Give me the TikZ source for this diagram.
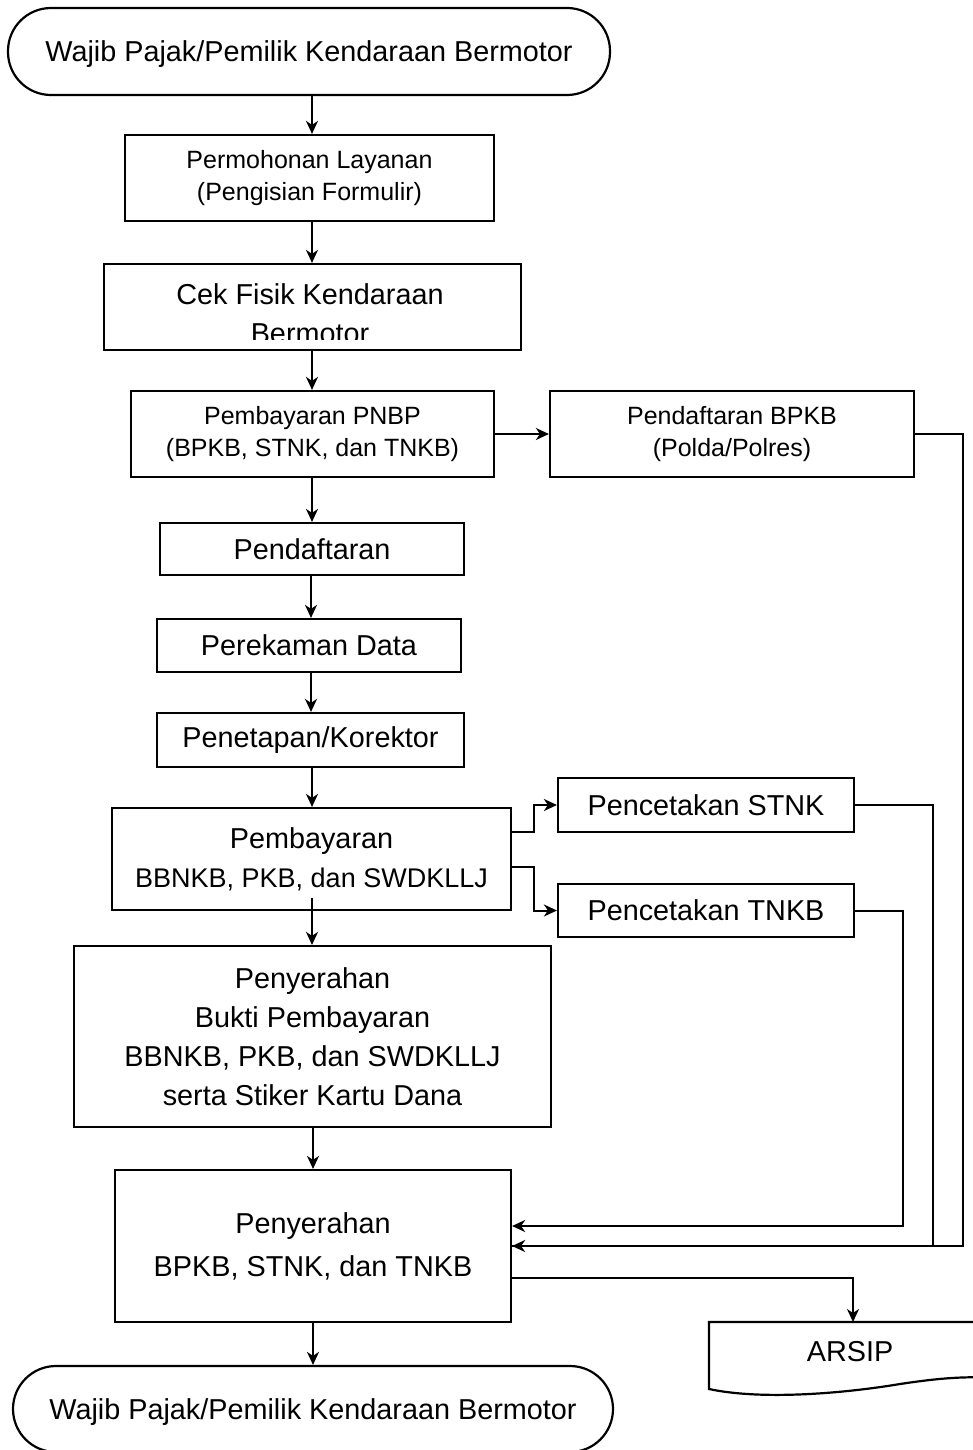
\documentclass[tikz,border=0pt]{standalone}
\usepackage{fontspec}
\setmainfont{Liberation Sans}
\usetikzlibrary{arrows.meta,calc}
\newcommand\ftbig{\fontsize{28.8}{39}\selectfont}
\newcommand\ftsmall{\fontsize{25}{32}\selectfont}
\begin{document}
\begin{tikzpicture}[x=1pt,y=-1pt,
  box/.style={draw,line width=2.2pt,align=center,inner sep=0pt,font=\ftbig},
  smallbox/.style={box,font=\ftsmall},
  term/.style={draw,line width=2.2pt,rounded corners=43pt,inner sep=0pt,font=\ftbig,text depth=0pt},
  arr/.style={line width=2pt,-{Stealth[length=13pt,width=12pt,inset=4pt]}},
  ln/.style={line width=2pt}]
\useasboundingbox (0,0) rectangle (973,1450);
\fill[white] (0,0) rectangle (973,1450);
\clip (0,0) rectangle (973,1450);

% terminals
\node[term,minimum width=602pt,minimum height=87pt] (top) at (309,51.5) {Wajib Pajak/Pemilik Kendaraan Bermotor};
\node[term,minimum width=600pt,minimum height=86pt] (bot) at (313,1409) {Wajib Pajak/Pemilik Kendaraan Bermotor};

% main column
\node[smallbox,minimum width=369pt,minimum height=86pt] (b1) at (309.5,178) {Permohonan Layanan\\(Pengisian Formulir)};
\node[box,minimum width=417pt,minimum height=86pt] (b2) at (312.5,307) {};
\begin{scope}
  \clip ([yshift=1pt]b2.north west) rectangle ([yshift=12pt]b2.south east);
  \node[font=\ftbig,align=center,inner sep=0pt] (b2t) at (310,314) {Cek Fisik Kendaraan\\Bermotor};
\end{scope}
\node[smallbox,minimum width=363pt,minimum height=86pt] (b3) at (312.5,434) {Pembayaran PNBP\\(BPKB, STNK, dan TNKB)};
\node[smallbox,minimum width=364pt,minimum height=86pt] (bpkb) at (732,434) {Pendaftaran BPKB\\(Polda/Polres)};
\node[box,minimum width=304pt,minimum height=52pt] (b4) at (312,549) {Pendaftaran};
\node[box,minimum width=304pt,minimum height=53pt] (b5) at (309,645.5) {Perekaman Data};
\node[box,minimum width=307pt,minimum height=54pt] (b6) at (310.5,740) {Penetapan/Korektor};
\node[box,minimum width=399pt,minimum height=102pt] (b7) at (311.5,859) {Pembayaran\\{\fontsize{27}{39}\selectfont BBNKB, PKB, dan SWDKLLJ}};
\node[box,minimum width=296pt,minimum height=54pt] (stnk) at (706,805) {Pencetakan STNK};
\node[box,minimum width=296pt,minimum height=53pt] (tnkb) at (706,910.5) {Pencetakan TNKB};
\node[box,minimum width=477pt,minimum height=181pt] (b8) at (312.5,1036.5) {Penyerahan\\Bukti Pembayaran\\BBNKB, PKB, dan SWDKLLJ\\serta Stiker Kartu Dana};
\node[box,font={\fontsize{28.8}{43}\selectfont},minimum width=396pt,minimum height=152pt] (b9) at (313,1246) {Penyerahan\\BPKB, STNK, dan TNKB};

% ARSIP document
\draw[line width=2.2pt] (1000,1322) -- (709,1322) -- (709,1389)
  .. controls (760,1400) and (840,1394) .. (900,1384)
  .. controls (940,1378) and (965,1376) .. (1000,1378);
\coordinate (arsiptop) at (853,1322);
\node[font=\ftbig,inner sep=0pt] (arsip) at (850,1352) {ARSIP};

% vertical flow
\draw[arr] (top.south -| 312,0) -- (312,0 |- b1.north);
\draw[arr] (b1.south -| 312,0) -- (312,0 |- b2.north);
\draw[arr] (b2.south -| 312,0) -- (312,0 |- b3.north);
\draw[arr] (b3.south -| 312,0) -- (312,0 |- b4.north);
\draw[arr] (b4.south -| 311,0) -- (311,0 |- b5.north);
\draw[arr] (b5.south -| 311,0) -- (311,0 |- b6.north);
\draw[arr] (b6.south -| 312,0) -- (312,0 |- b7.north);
\draw[arr] ([yshift=13pt]b7.south -| 312,0) -- (312,0 |- b8.north);
\draw[arr] (b8.south -| 313,0) -- (313,0 |- b9.north);
\draw[arr] (b9.south -| 313,0) -- (313,0 |- bot.north);

% side connectors
\draw[arr] (b3.east) -- (bpkb.west);
\draw[arr] (bpkb.east) -- ++(48,0) |- (b9.east);
\draw[ln] (stnk.east) -- ++(78,0) |- (b9.east);
\draw[arr] (tnkb.east) -- ++(48,0) |- ([yshift=20pt]b9.east);
\draw[arr] ([yshift=27pt]b7.east) -- ++(22,0) |- (stnk.west);
\draw[arr] ([yshift=-8pt]b7.east) -- ++(22,0) |- (tnkb.west);
\draw[arr] ([yshift=-32pt]b9.east) -| (arsiptop);
\end{tikzpicture}
\end{document}
